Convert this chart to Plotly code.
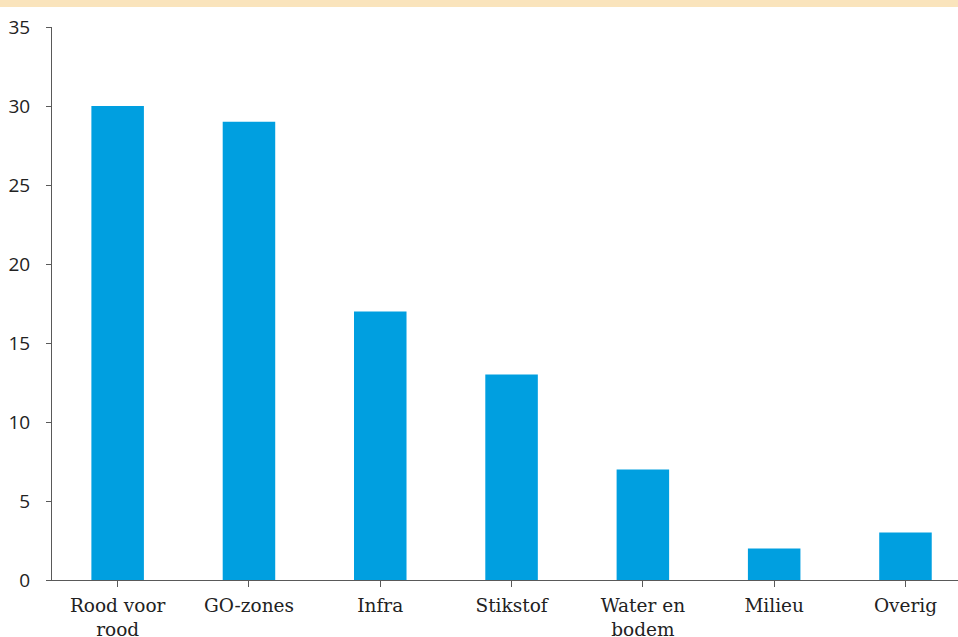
import plotly.graph_objects as go

categories = ["Rood voor<br>rood", "GO-zones", "Infra", "Stikstof", "Water en<br>bodem", "Milieu", "Overig"]
values = [30, 29, 17, 13, 7, 2, 3]
y_ticks = [0, 5, 10, 15, 20, 25, 30, 35]

fig = go.Figure()
fig.add_trace(go.Bar(x=list(range(len(categories))), y=values, width=0.4,
                     marker=dict(color="#009FE0", line=dict(width=0))))

fig.update_layout(
    width=958, height=637,
    margin=dict(l=52, r=0, t=27, b=57),
    paper_bgcolor="white", plot_bgcolor="white",
    showlegend=False,
    xaxis=dict(
        tickmode="array", tickvals=list(range(len(categories))), ticktext=categories,
        range=[-0.5, 6.4], showgrid=False, zeroline=False, automargin=False,
        showline=True, linecolor="#595959", linewidth=1,
        ticks="outside", ticklen=6, tickcolor="#595959", tickson="boundaries",
        tickfont=dict(family="DejaVu Serif", size=18.5, color="#222222"),
        ticklabelstandoff=3,
    ),
    yaxis=dict(
        range=[0, 35], tickvals=y_ticks, showgrid=False, zeroline=False, automargin=False,
        showline=True, linecolor="#595959", linewidth=1,
        ticks="outside", ticklen=5, tickcolor="#595959",
        tickfont=dict(family="Open Sans", size=19, color="#222222"),
        ticklabelstandoff=12,
    ),
    shapes=[dict(type="rect", xref="paper", yref="paper",
                 x0=-0.1, x1=1.1, y0=(580 - 7) / 553, y1=580 / 553 + 0.01,
                 fillcolor="#FAE4BC", line=dict(width=0), layer="above")],
)

fig.write_html("out.html")
